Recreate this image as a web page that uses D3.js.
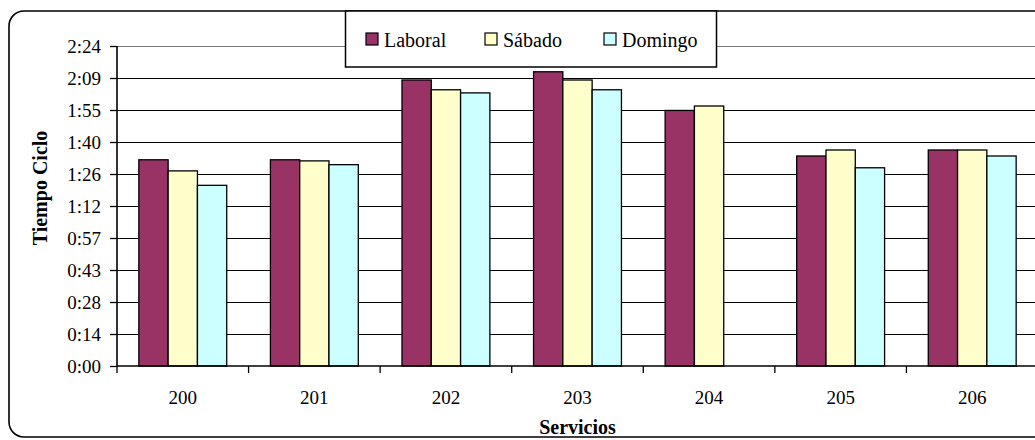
<!DOCTYPE html>
<html>
<head>
<meta charset="utf-8">
<script src="https://cdn.jsdelivr.net/npm/d3@7/dist/d3.min.js"></script>
<style>
    body { margin: 0; background: #fff; }
</style>
</head>
<body>
<svg id="chart" width="1035" height="440"></svg>
<script>
// servicios and cycle time in minutes
const servicios = ["200", "201", "202", "203", "204", "205", "206"];
const seriesNames = ["Laboral", "Sábado", "Domingo"];
const laboral = [92.8, 92.8, 128.7, 132.4, 115.0, 94.5, 97.2];
const sabado = [87.8, 92.3, 124.3, 128.7, 117.0, 97.2, 97.2];
const domingo = [81.3, 90.6, 122.9, 124.3, null, 89.2, 94.5];
const yTicks = [0, 14.4, 28.8, 43.2, 57.6, 72, 86.4, 100.8, 115.2, 129.6, 144];
const yTickLabels = ["0:00", "0:14", "0:28", "0:43", "0:57", "1:12", "1:26", "1:40", "1:55", "2:09", "2:24"];
const colors = ["#993366", "#ffffcc", "#ccffff"];

const FONT = "'Liberation Serif', 'Times New Roman', 'DejaVu Serif', serif";

class BarChart {

    constructor() {
        this.svg = d3.select("#chart");
        this.left = 117;
        this.right = 1038;
        this.top = 46;
        this.bottom = 366;

        this.x = d3.scaleBand()
            .domain(servicios)
            .range([this.left, this.right])
            .paddingInner(0.332)
            .paddingOuter(0.166);
        this.xs = d3.scaleBand()
            .domain(seriesNames)
            .range([0, this.x.bandwidth()]);
        this.y = d3.scaleLinear()
            .domain([0, 144])
            .range([this.bottom, this.top]);
    }

    drawFrame() {
        this.svg.append("rect")
            .attr("x", 9).attr("y", 11)
            .attr("width", 1045).attr("height", 426)
            .attr("rx", 15).attr("ry", 15)
            .attr("fill", "#fff")
            .attr("stroke", "#000")
            .attr("stroke-width", 1.6);
    }

    drawGrid() {
        let g = this.svg.append("g");
        g.selectAll("line")
            .data(yTicks.slice(1))
            .enter()
            .append("line")
            .attr("x1", this.left).attr("x2", this.right)
            .attr("y1", d => Math.round(this.y(d)) + 0.5)
            .attr("y2", d => Math.round(this.y(d)) + 0.5)
            .attr("stroke", (d, i) => i === yTicks.length - 2 ? "#777" : "#000")
            .attr("stroke-width", 1.2);
    }

    drawBars() {
        let data = [laboral, sabado, domingo];
        let groups = this.svg.append("g")
            .selectAll("g")
            .data(servicios)
            .enter()
            .append("g")
            .attr("transform", d => "translate(" + this.x(d) + ",0)");
        groups.selectAll("rect")
            .data((d, i) => seriesNames.map((s, k) => ({ s: s, k: k, v: data[k][i] })).filter(e => e.v != null))
            .enter()
            .append("rect")
            .attr("x", e => this.xs(e.s))
            .attr("width", this.xs.bandwidth())
            .attr("y", e => this.y(e.v))
            .attr("height", e => this.bottom - this.y(e.v))
            .attr("fill", e => colors[e.k])
            .attr("stroke", "#000")
            .attr("stroke-width", 1.3);
    }

    drawAxes() {
        let yAxis = d3.axisLeft(this.y)
            .tickValues(yTicks)
            .tickFormat((d, i) => yTickLabels[i])
            .tickSize(7)
            .tickPadding(9);
        let gy = this.svg.append("g")
            .attr("transform", "translate(" + this.left + ",0)")
            .call(yAxis);
        gy.attr("font-family", null).attr("font-size", null);
        gy.select(".domain").remove();
        gy.selectAll("line").attr("stroke", "#000").attr("stroke-width", 1.3);
        gy.selectAll("text")
            .style("font-family", FONT)
            .style("font-size", "19px")
            .attr("fill", "#000")
            .attr("dy", "0.33em");
        this.svg.append("line")
            .attr("x1", this.left).attr("x2", this.left)
            .attr("y1", this.top).attr("y2", this.bottom)
            .attr("stroke", "#000").attr("stroke-width", 1.6);

        // category boundary ticks
        let bounds = servicios.map(d => this.x(d) - this.x.step() * 0.166).concat([this.right]);
        this.svg.append("g")
            .selectAll("line")
            .data(bounds)
            .enter()
            .append("line")
            .attr("x1", d => d).attr("x2", d => d)
            .attr("y1", this.bottom).attr("y2", this.bottom + 7)
            .attr("stroke", "#000").attr("stroke-width", 1.3);
        this.svg.append("line")
            .attr("x1", this.left).attr("x2", this.right)
            .attr("y1", this.bottom).attr("y2", this.bottom)
            .attr("stroke", "#000").attr("stroke-width", 1.6);

        this.svg.append("g")
            .selectAll("text")
            .data(servicios)
            .enter()
            .append("text")
            .attr("x", d => this.x(d) + this.x.bandwidth() / 2)
            .attr("y", 404)
            .attr("text-anchor", "middle")
            .style("font-family", FONT)
            .style("font-size", "19px")
            .text(d => d);

        this.svg.append("text")
            .attr("x", (this.left + this.right) / 2)
            .attr("y", 434)
            .attr("text-anchor", "middle")
            .style("font-family", FONT)
            .style("font-size", "20px")
            .style("font-weight", "bold")
            .text("Servicios");

        this.svg.append("text")
            .attr("transform", "translate(47,188) rotate(-90)")
            .attr("text-anchor", "middle")
            .style("font-family", FONT)
            .style("font-size", "20px")
            .style("font-weight", "bold")
            .text("Tiempo Ciclo");
    }

    drawLegend() {
        let g = this.svg.append("g");
        g.append("rect")
            .attr("x", 345.5).attr("y", 11)
            .attr("width", 371).attr("height", 56)
            .attr("fill", "#fff")
            .attr("stroke", "#000")
            .attr("stroke-width", 1.5);
        let items = g.selectAll("g")
            .data(seriesNames)
            .enter()
            .append("g")
            .attr("transform", (d, i) => "translate(" + (366 + i * 119) + ",33)");
        items.append("rect")
            .attr("width", 12).attr("height", 12)
            .attr("fill", (d, i) => colors[i])
            .attr("stroke", "#000")
            .attr("stroke-width", 1.2);
        items.append("text")
            .attr("x", 18).attr("y", 13.5)
            .style("font-family", FONT)
            .style("font-size", "20px")
            .text(d => d);
    }

    draw() {
        this.drawFrame();
        this.drawGrid();
        this.drawBars();
        this.drawAxes();
        this.drawLegend();
    }
}

let chart = new BarChart();
chart.draw();
</script>
</body>
</html>
